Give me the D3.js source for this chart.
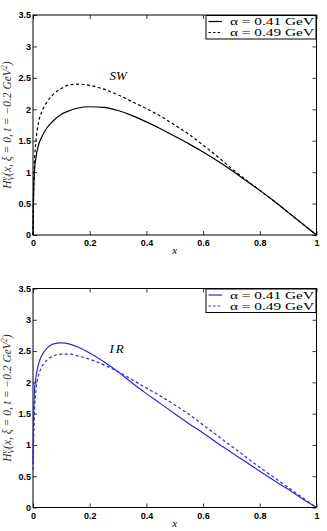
<!DOCTYPE html>
<html>
<head>
<meta charset="utf-8">
<script src="https://cdn.jsdelivr.net/npm/d3@7"></script>
<style>
  html, body { margin: 0; padding: 0; background: #fff; }
  svg { display: block; }
  .tick text { font-family: "Liberation Sans", Arial, sans-serif; font-weight: bold; font-size: 9px; fill: #000; }
  .math { font-family: "Liberation Serif", "DejaVu Serif", serif; font-style: italic; }
</style>
</head>
<body>
<script>
// x grid shared by all curves
const xGrid = [0, 0.002, 0.005, 0.01, 0.02, 0.03, 0.05, 0.07, 0.1, 0.13, 0.16, 0.2, 0.25, 0.3, 0.35, 0.4,
  0.45, 0.5, 0.55, 0.6, 0.65, 0.7, 0.75, 0.8, 0.85, 0.9, 0.95, 1];

// SW model
const swA041 = [0, 0.6, 1.0, 1.22, 1.44, 1.55, 1.71, 1.81, 1.92, 1.98, 2.02, 2.04, 2.03, 1.98, 1.90, 1.80,
  1.69, 1.57, 1.45, 1.32, 1.18, 1.03, 0.87, 0.71, 0.54, 0.36, 0.18, 0];
const swA049 = [0, 0.7, 1.15, 1.47, 1.80, 1.95, 2.12, 2.23, 2.33, 2.39, 2.40, 2.38, 2.32, 2.23, 2.12, 2.01,
  1.89, 1.75, 1.60, 1.43, 1.25, 1.06, 0.88, 0.71, 0.54, 0.36, 0.18, 0];

// IR model
const irA041 = [0.7, 1.4, 1.85, 2.07, 2.30, 2.42, 2.55, 2.61, 2.63, 2.61, 2.56, 2.47, 2.33, 2.17, 1.99, 1.82,
  1.66, 1.50, 1.34, 1.19, 1.03, 0.88, 0.73, 0.58, 0.43, 0.29, 0.14, 0];
const irA049 = [0.6, 1.0, 1.5, 1.85, 2.12, 2.24, 2.36, 2.42, 2.45, 2.45, 2.42, 2.37, 2.28, 2.17, 2.04, 1.91,
  1.78, 1.64, 1.49, 1.32, 1.15, 0.98, 0.81, 0.64, 0.48, 0.32, 0.16, 0];

const xTicks = [0, 0.2, 0.4, 0.6, 0.8, 1];
const yTicks = [0, 0.5, 1, 1.5, 2, 2.5, 3, 3.5];
const legendLabels = ["α = 0.41 GeV", "α = 0.49 GeV"];

const panels = [
  {top: 15, bottom: 235, color: "#000", label: "SW", labelX: 0.27, labelY: 2.5, series: [swA041, swA049]},
  {top: 288.5, bottom: 507.5, color: "#2a2ad8", label: "IR", labelX: 0.27, labelY: 2.5, series: [irA041, irA049]}
];

const W = 327, H = 531;
const left = 33, right = 316.5;

const svg = d3.select("body").append("svg").attr("width", W).attr("height", H);

panels.forEach(p => {
  const x = d3.scaleLinear().domain([0, 1]).range([left, right]);
  const y = d3.scaleLinear().domain([0, 3.5]).range([p.bottom, p.top]);
  const g = svg.append("g");

  // axes with inward ticks, MATLAB style box
  g.append("g").attr("transform", `translate(0,${p.bottom})`)
    .call(d3.axisBottom(x).tickValues(xTicks).tickSize(-4).tickPadding(5).tickFormat(d3.format("")))
    .call(a => a.select(".domain").remove());
  g.append("g").attr("transform", `translate(0,${p.top})`)
    .call(d3.axisTop(x).tickValues(xTicks).tickSize(-4).tickFormat(""))
    .call(a => a.select(".domain").remove());
  g.append("g").attr("transform", `translate(${left},0)`)
    .call(d3.axisLeft(y).tickValues(yTicks).tickSize(-4).tickPadding(2).tickFormat(d3.format("")))
    .call(a => a.select(".domain").remove());
  g.append("g").attr("transform", `translate(${right},0)`)
    .call(d3.axisRight(y).tickValues(yTicks).tickSize(-4).tickFormat(""))
    .call(a => a.select(".domain").remove());
  g.selectAll(".tick line").attr("stroke", "#000").attr("stroke-width", 0.8);

  g.append("rect")
    .attr("x", left).attr("y", p.top)
    .attr("width", right - left).attr("height", p.bottom - p.top)
    .attr("fill", "none").attr("stroke", "#000").attr("stroke-width", 1);

  const line = d3.line()
    .x((d, i) => x(xGrid[i]))
    .y(d => y(d))
    .curve(d3.curveMonotoneX);

  const dashes = [null, "3,2.5"];
  p.series.forEach((s, i) => {
    g.append("path")
      .attr("d", line(s))
      .attr("fill", "none")
      .attr("stroke", p.color)
      .attr("stroke-width", 1.2)
      .attr("stroke-dasharray", dashes[i]);
  });

  // model label
  g.append("text").attr("class", "math")
    .attr("x", x(p.labelX)).attr("y", y(p.labelY) + 2)
    .attr("font-size", 13)
    .attr("letter-spacing", p.label === "IR" ? 2 : 0)
    .text(p.label);

  // legend
  const lg = g.append("g");
  lg.append("rect")
    .attr("x", 206).attr("y", p.top + 0.5)
    .attr("width", right - 206 - 0.5).attr("height", 23.5)
    .attr("fill", "#fff").attr("stroke", "#000").attr("stroke-width", 1);
  legendLabels.forEach((t, i) => {
    const yy = p.top + 6.5 + i * 11;
    lg.append("line")
      .attr("x1", 208.5).attr("x2", 222)
      .attr("y1", yy).attr("y2", yy)
      .attr("stroke", p.color).attr("stroke-width", 1.2)
      .attr("stroke-dasharray", i ? "2.5,2" : null);
    lg.append("text")
      .attr("x", 230).attr("y", yy + 3.5)
      .attr("font-family", "Liberation Serif, serif")
      .attr("font-size", 10.5)
      .attr("textLength", 84)
      .attr("lengthAdjust", "spacingAndGlyphs")
      .attr("fill", "#000")
      .text(t);
  });

  // x label
  g.append("text").attr("class", "math")
    .attr("x", x(0.5)).attr("y", p.bottom + 19)
    .attr("text-anchor", "middle").attr("font-size", 11)
    .text("x");

  // y label
  const cy = (p.top + p.bottom) / 2;
  const yl = g.append("text").attr("class", "math")
    .attr("transform", `translate(11,${cy}) rotate(-90)`)
    .attr("text-anchor", "middle").attr("font-size", 11.5).attr("fill", "#333");
  yl.append("tspan").text("H");
  yl.append("tspan").attr("font-size", 8).attr("dy", -4.5).text("v");
  yl.append("tspan").attr("font-size", 8).attr("dx", -4).attr("dy", 7.5).text("V");
  yl.append("tspan").attr("dy", -3).text("(x, ξ = 0, t = −0.2 GeV");
  yl.append("tspan").attr("font-size", 8).attr("dy", -4.5).text("2");
  yl.append("tspan").attr("dy", 4.5).text(")");
});
</script>
</body>
</html>
